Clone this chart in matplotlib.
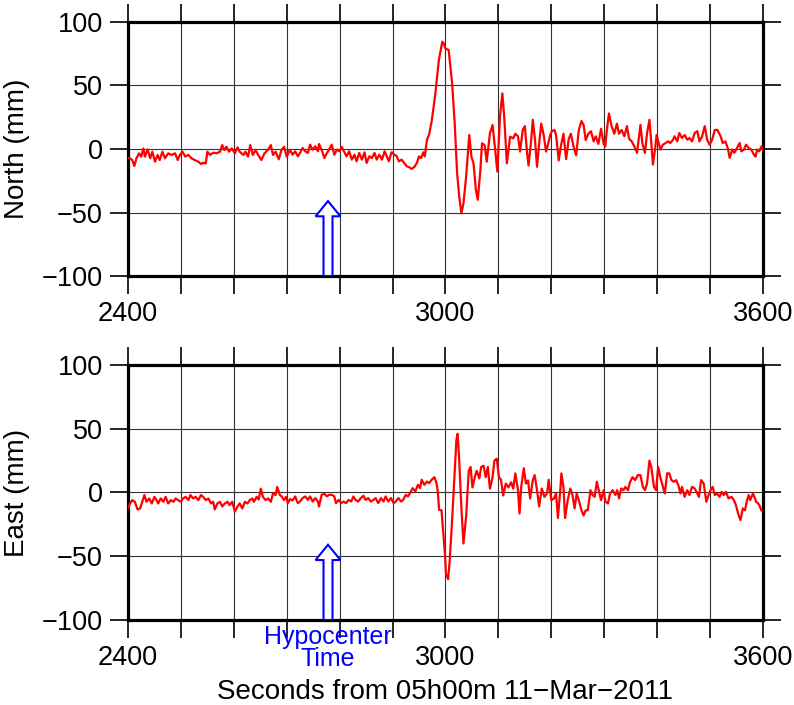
import matplotlib.pyplot as plt
from matplotlib.ticker import MultipleLocator

plt.rcParams['font.family'] = ['Liberation Sans', 'DejaVu Sans']

# hypocenter time, seconds after 05h00m
hypo_time = 2778

# North component (mm)
t_north = [2400, 2404, 2408, 2412, 2416, 2421, 2425, 2429, 2432, 2437, 2442, 2446, 2451, 2456, 2460,
           2465, 2470, 2476, 2482, 2489, 2494, 2498, 2503, 2508, 2514, 2520, 2526, 2533, 2538, 2542,
           2547, 2550, 2555, 2561, 2567, 2574, 2578, 2582, 2586, 2591, 2596, 2602, 2607, 2611, 2618,
           2622, 2627, 2631, 2636, 2641, 2646, 2652, 2658, 2665, 2670, 2674, 2679, 2685, 2690, 2695,
           2700, 2706, 2711, 2716, 2721, 2725, 2730, 2735, 2740, 2744, 2749, 2754, 2759, 2761, 2766,
           2771, 2776, 2780, 2785, 2790, 2795, 2800, 2804, 2809, 2813, 2818, 2823, 2828, 2832, 2837,
           2842, 2847, 2851, 2856, 2861, 2866, 2870, 2875, 2880, 2885, 2889, 2893, 2898, 2904, 2908,
           2912, 2917, 2922, 2927, 2931, 2936, 2941, 2946, 2950, 2954, 2958, 2961, 2965, 2969, 2974,
           2981, 2987.5, 2994, 2997, 3000, 3006, 3012.5, 3017.5, 3022, 3026, 3030, 3034, 3039, 3045,
           3049, 3053, 3057.5, 3061, 3066, 3069, 3074, 3078, 3084, 3089, 3094, 3098, 3103, 3107.5,
           3111, 3116, 3122, 3128, 3132, 3137, 3141, 3146, 3150, 3154, 3157, 3162, 3165, 3169, 3173,
           3177, 3181, 3186, 3190, 3194, 3198, 3201, 3206, 3209, 3214, 3218, 3223, 3228, 3233, 3237,
           3242, 3247, 3252, 3257, 3261, 3265, 3270, 3275, 3280, 3284, 3289, 3294, 3299, 3302, 3305,
           3309, 3314, 3319, 3324, 3328, 3333, 3338, 3343, 3347, 3352, 3357, 3362, 3368.5, 3372, 3377,
           3381, 3385.5, 3389, 3392, 3396, 3399, 3403, 3406, 3411, 3416, 3421, 3425, 3430, 3433, 3438,
           3442, 3447, 3452, 3457, 3461, 3466, 3471, 3476, 3480, 3485, 3490, 3494.5, 3499, 3504, 3509,
           3514, 3520, 3524, 3529, 3534, 3537, 3542, 3546, 3551, 3556, 3559, 3564, 3568, 3573, 3578,
           3583, 3586, 3589, 3593, 3597, 3600]
north = [-7, -7.3, -8.7, -13.4, -7.3, -3.4, -6, 0.5, -6, -0.3, -7.3, -2.1, -10, -4.7, -8.7,
         -2.1, -7.3, -3.4, -4.7, -3.4, -8.7, -4.7, -2.1, -6, -4.7, -7.3, -8.7, -10, -11.8, -10.8,
         -11.3, -2.1, -4.7, -2.9, -3.4, -2.1, 3.1, -0.8, 1.8, -2.1, 0.5, -3.4, 1.3, -2.1, -4.7,
         -2.1, -6, 3.1, -4.7, -0.8, -4.7, -8.7, -3.4, -0.3, 3.1, -4.7, -2.1, -8.1, -0.8, 1.8,
         -6, -0.5, -4.5, -1.8, -5.8, -3.1, 0.8, -1.8, -3.1, 3.4, -0.5, 2.1, -1.8, 3.9, -0.5,
         -7.1, -3.1, -0.5, 3.4, -4.5, -0.5, -1.8, 1.6, -2.6, -5.8, -1.8, -8.4, -4.5, -9.7, -3.1,
         -8.4, -2.6, -11, -5.8, -7.1, -3.1, -8.4, -4.5, -8.4, -1.8, -5.8, -9.7, -2.6, -4.5, -5.8,
         -9.7, -8.4, -11, -13.6, -14.2, -15.7, -14.2, -11, -5.8, -7.1, -2.6, -5.8, 7.3, 11.3, 22,
         44, 70, 84.5, 83, 79, 78, 52, 20, -19, -37.5, -50.7, -42.8, -21.8, 11,
         -6, -11.3, -32.3, -40, -16.5, 4.5, 3.1, -10, 12.3, 18.9, -0.8, -17.8, 25.5, 43.8,
         25.5, -11.3, 9.7, 8.4, 12, 10, -2, 15, 18, -2, -13, 7, 23, 8, -14,
         4, 20, 10, -2, 4, 11, 14, 15, 11, -9, 2, 12, -8, 8, 12,
         2, -5, 15, 22, 19, 7, 12, 14, 6, 10, 4, 16, 4, 2, 15,
         28, 18, 12, 20, 12, 15, 10, 18, 8, 6, 2, -3, 19, 4.7, -3.1,
         12.6, 23, 4.7, -12.3, -0.5, 11, 4.7, -0.5, 3.4, 4.7, 6, 4.7, 7.3, 10, 6,
         12.6, 8.7, 11, 7.3, 8.7, 6, 12.6, 14, 6, 10, 18, 7.3, 3.4, 7.3, 15,
         15, 10, 4.7, 6, 0, -7, -0.5, -3, 0.8, 4.7, -1.8, -0.5, 3.4, 0.8, -0.5,
         -4.5, -6, -0.5, -1.8, 2, -1]

# East component (mm)
t_east = [2400, 2404, 2408, 2413, 2418, 2423, 2427, 2431, 2435, 2440, 2445, 2450, 2454, 2457, 2462,
          2467, 2471, 2476, 2481, 2486, 2490, 2495, 2500, 2504, 2509, 2514, 2518, 2523, 2528, 2533,
          2538, 2542, 2547, 2552, 2557, 2561, 2564, 2569, 2574, 2578, 2583, 2588, 2592, 2597, 2602,
          2607, 2611, 2616, 2621, 2626, 2630, 2635, 2638, 2643, 2647, 2651, 2655, 2660, 2665, 2670,
          2674, 2679, 2682, 2687, 2691, 2695, 2699, 2702, 2706, 2711, 2716, 2721, 2725, 2730, 2735,
          2740, 2744, 2749, 2754, 2759, 2761, 2766, 2771, 2776, 2780, 2785, 2790, 2793, 2798, 2803,
          2807, 2812, 2817, 2822, 2826, 2830, 2835, 2840, 2845, 2849, 2854, 2859, 2864, 2868, 2873,
          2878, 2883, 2887, 2892, 2897, 2902, 2906, 2911, 2916, 2920, 2925, 2929, 2933, 2938, 2943,
          2948, 2952, 2955, 2960, 2965, 2969, 2974, 2979, 2983, 2985.5, 2988, 2992.5, 2995.6, 2999, 3001,
          3005, 3008, 3012.5, 3017.5, 3020.6, 3023, 3026, 3030, 3034, 3039, 3044, 3047.5, 3051, 3056, 3059,
          3064, 3067.5, 3072, 3076, 3080, 3084, 3089, 3092.5, 3097, 3101, 3105, 3109, 3114, 3119, 3124,
          3128, 3132, 3137, 3140, 3143, 3148, 3152, 3156, 3160, 3165, 3168.5, 3173, 3177, 3182, 3187,
          3192, 3195, 3200, 3205, 3209, 3212.5, 3217, 3219, 3223, 3226, 3231, 3236, 3240, 3244, 3248,
          3252, 3257, 3261, 3265, 3269, 3274, 3278, 3282, 3286, 3289, 3294, 3299, 3302, 3307, 3311,
          3316, 3321, 3324.5, 3328, 3332, 3336.5, 3340, 3345, 3349, 3353.5, 3358.5, 3363.5, 3368.5, 3373, 3377,
          3381, 3385.5, 3389, 3394, 3398, 3402, 3406, 3411, 3414.5, 3419, 3423, 3427, 3431.5, 3436, 3440,
          3444, 3447, 3452, 3457, 3461, 3466, 3471, 3476, 3479, 3483, 3488, 3493, 3496, 3501, 3505,
          3509, 3513, 3518, 3522, 3526, 3530, 3535, 3540.5, 3545, 3549, 3553, 3557.5, 3562, 3566, 3570,
          3573, 3576, 3581, 3585, 3587, 3591, 3593, 3597]
east = [-12, -8.6, -6, -7.3, -13.3, -12.5, -7.3, -2, -7.3, -4.7, -8.6, -3.4, -6, -8.6, -4.7,
        -7.3, -3.4, -8.6, -6, -7.3, -4.7, -6, -7.3, -4.7, -3.4, -6, -2, -4.7, -3.4, -6,
        -2, -3.4, -6, -4.7, -8.6, -7.3, -13.3, -8.6, -7.3, -11, -8.6, -7.3, -9.9, -7.3, -15,
        -11, -8.6, -12.5, -7.3, -8.6, -6, -4.7, -7.3, -3.4, -5.5, 3, -3.4, -6, -4.7, -7.3,
        -0.8, -2, 4.4, -2, -3.4, -6, -3.4, -8.4, -5.2, -6.3, -3.1, -8.4, -7.1, -4.4, -3.1,
        -5.8, -3.1, -7.1, -4.4, -7.1, -11, -1.8, -1, -3.1, -1.8, -1.8, -3.1, -8.4, -5.8, -8.4,
        -7.1, -8.4, -5.8, -7.1, -3.1, -5.8, -7.1, -4.4, -2.6, -5.8, -4.4, -7.1, -5.8, -4.4, -8.4,
        -4.4, -7.1, -3.1, -7.1, -4.4, -8.4, -7.1, -4.4, -7.1, -5.8, -1.8, -3.1, -0.5, 3.4, 0.8,
        6, 3.4, 10, 6, 8.6, 7.3, 10, 12, 7.3, 0.8, -13.6, -14, -30, -48, -64,
        -68, -53.5, -22, 17, 41, 46, 25, -11.5, -40, -19, 17, 20, 4, 13, 17,
        11, 20, 21, 12, 20, 3, 12, 25, 26.5, 12, 10, -2.4, 7, 4, 8,
        3, 15, 2, -16.5, 4, 19, 7, 9.5, -4.7, 9.5, 13.6, 1.8, -11, 3.1, -3.4,
        -0.8, 10, -6, -4.7, -0.8, -20, 1.8, 15, 4.4, -20, -6, 3.1, -2, -12.5, -0.8,
        -6, -14, -18, -14, -14, 1.8, -2, -3.4, 8.4, 3.1, -6, 1.8, -7, -8.6, -0.8,
        1.8, -2, 1.8, -4.7, 3.1, 1.8, 4.4, 1.8, 8.4, 12, 9.7, 13.6, 13.6, 4.4, 1.8,
        7.1, 25, 20, 4.4, 1.8, 20, 12, 4.4, -0.8, 15, 15, 9.7, 8.4, 9.7, 5.8,
        -0.8, 4.4, -3.4, 1.8, -2, 4.4, 3.1, -0.8, -3.4, 9.7, 7.1, -7.3, -3.4, 1.8, 4.4,
        -2, -0.8, -3.4, 0.5, -2, 0.5, -4.7, -3.4, -6, -10, -16.5, -21.7, -12.5, -14, -6,
        -2, -6, -0.8, -4.7, -7.3, -8.6, -9.9, -14]

fig = plt.figure(figsize=(7.94, 7.05), dpi=100)
ax1 = fig.add_axes([0.1612, 0.6085, 0.7997, 0.3603])
ax2 = fig.add_axes([0.1612, 0.1206, 0.7997, 0.3617])

for ax, t, y, lab in [(ax1, t_north, north, 'North (mm)'), (ax2, t_east, east, 'East (mm)')]:
    ax.plot(t, y, color='red', lw=1.6, zorder=3)
    ax.set_xlim(2400, 3600)
    ax.set_ylim(-100, 100)
    ax.set_xticks([2400, 3000, 3600])
    ax.xaxis.set_minor_locator(MultipleLocator(100))
    ax.set_yticks([-100, -50, 0, 50, 100])
    ax.tick_params(which='both', direction='out', length=13, width=1.2,
                   top=True, right=True, labelsize=19.5, pad=5, colors='black')
    ax.grid(which='both', color='0.2', lw=0.8)
    for s in ax.spines.values():
        s.set_linewidth(2.3)
    ax.set_ylabel(lab, fontsize=20)
    ax.yaxis.set_label_coords(-0.155, 0.5)
    # hollow arrow marking hypocenter time
    ax.arrow(hypo_time, -100, 0, 59, width=17, head_width=47, head_length=12,
             length_includes_head=True, fc='white', ec='blue', lw=1.5, zorder=4)

ax2.text(hypo_time, -122, 'Hypocenter\nTime', ha='center', va='center', color='blue',
         fontsize=18, linespacing=0.9, clip_on=False)
ax2.set_xlabel('Seconds from 05h00m 11\u2212Mar\u22122011', fontsize=20, labelpad=6)

fig.savefig('out.png', dpi=100)
